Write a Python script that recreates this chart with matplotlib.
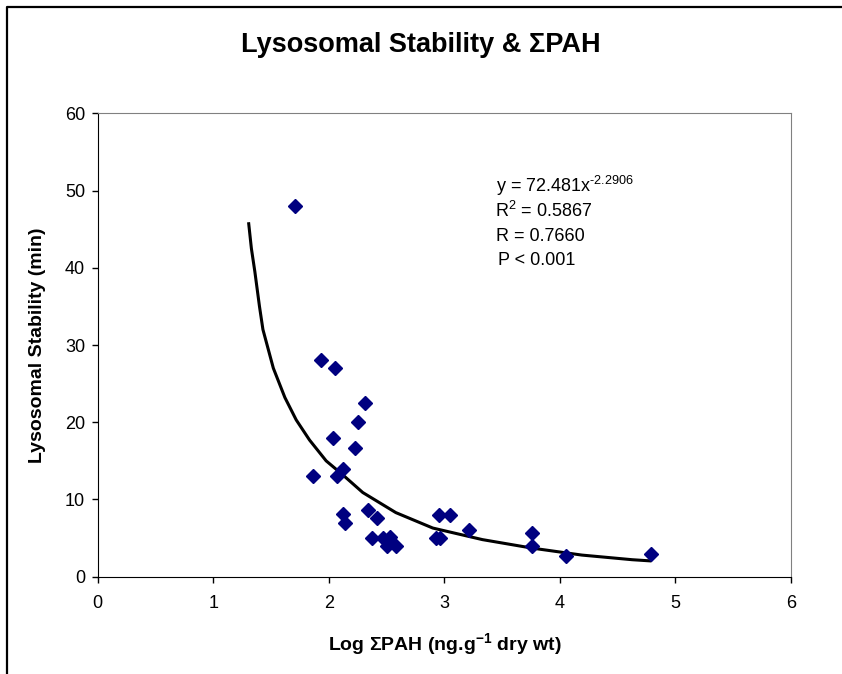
import matplotlib
matplotlib.use("Agg")
import matplotlib.pyplot as plt
from matplotlib.lines import Line2D

plt.rcParams['font.family'] = ['Liberation Sans', 'DejaVu Sans']
plt.rcParams['mathtext.fontset'] = 'custom'
plt.rcParams['mathtext.rm'] = 'Liberation Sans'
plt.rcParams['mathtext.it'] = 'Liberation Sans'
plt.rcParams['mathtext.bf'] = 'Liberation Sans:bold'

# measured points (log sum PAH vs lysosomal stability)
log_pah = [1.71, 1.93, 2.05, 2.31, 2.25, 2.035, 2.23, 2.12, 1.86, 2.07,
           2.12, 2.14, 2.34, 2.42, 2.37, 2.47, 2.53, 2.50, 2.585,
           2.95, 3.05, 3.21, 2.93, 2.96, 3.76, 3.76, 4.05, 4.79]
stability = [48, 28, 27, 22.5, 20, 18, 16.6, 14, 13, 13,
             8.1, 7, 8.6, 7.6, 5, 5, 5.1, 4, 4,
             8, 8, 6, 5, 5, 5.6, 4, 2.7, 3]

# power trendline as drawn in the chart
trend_x = [1.307, 1.33, 1.36, 1.40, 1.43, 1.52, 1.62, 1.718, 1.833, 1.977,
           2.12, 2.294, 2.58, 2.90, 3.33, 3.76, 4.19, 4.625, 4.78]
trend_y = [45.7, 42.5, 39.5, 35.0, 32.0, 27.0, 23.2, 20.3, 17.7, 15.0,
           13.2, 10.9, 8.3, 6.3, 4.8, 3.7, 2.8, 2.2, 2.05]

stats = [r"y = 72.481x$^{\text{-2.2906}}$", "R$^{2}$ = 0.5867", "R = 0.7660", "P < 0.001"]

fig = plt.figure(figsize=(8.42, 6.74), dpi=100)
ax = fig.add_axes([97.7 / 842, 1 - 576.7 / 674, (791 - 97.7) / 842, (576.7 - 113.3) / 674])

ax.plot(trend_x, trend_y, color='black', lw=2.2, zorder=2)
ax.plot(log_pah, stability, linestyle='none', marker='D', ms=7,
        color='#000080', zorder=3)

ax.set_xlim(0, 6)
ax.set_ylim(0, 60)
ax.set_xticks(range(0, 7))
ax.set_yticks(range(0, 61, 10))
ax.tick_params(direction='out', length=4, width=1, labelsize=13)
ax.tick_params(axis='x', pad=9)
ax.tick_params(axis='y', pad=5)

for s in ['top', 'right']:
    ax.spines[s].set_color('#808080')
for s in ['left', 'bottom']:
    ax.spines[s].set_color('black')

fig.text(0.5, 1 - 45 / 674, "Lysosomal Stability & ΣPAH", fontsize=19.5,
         fontweight='bold', ha='center', va='center')
ax.set_xlabel(r"Log ΣPAH (ng.g$\mathbf{^{-1}}$ dry wt)", fontsize=14,
              fontweight='bold', labelpad=14)
ax.set_ylabel("Lysosomal Stability (min)", fontsize=14, fontweight='bold', labelpad=14)

stat_pos = [(3.445, 50.6), (3.44, 47.3), (3.45, 44.0), (3.465, 41.0)]
for (sx, sy), txt in zip(stat_pos, stats):
    ax.text(sx, sy, txt, fontsize=13, va='center', ha='left')

# chart frame
fig.add_artist(Line2D([6.5 / 842, 6.5 / 842, 1], [0, 1 - 7 / 674, 1 - 7 / 674],
                      transform=fig.transFigure, color='black', lw=1.6))

fig.savefig("out.png", dpi=100)
